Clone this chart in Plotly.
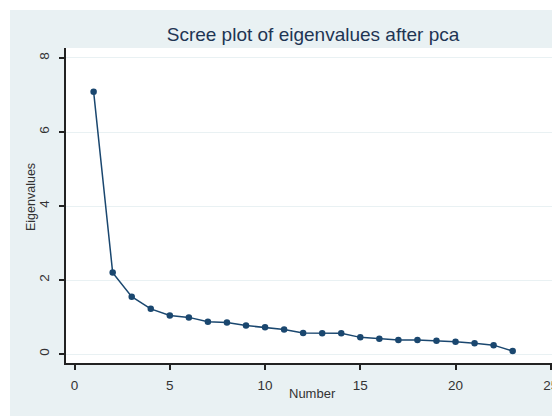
import plotly.graph_objects as go

component = list(range(1, 24))
eigenvalues = [7.09, 2.20, 1.55, 1.22, 1.04, 0.99, 0.87, 0.85, 0.77, 0.72, 0.66, 0.57,
               0.56, 0.56, 0.45, 0.41, 0.38, 0.38, 0.36, 0.33, 0.29, 0.24, 0.08]
x_ticks = [0, 5, 10, 15, 20, 25]
y_ticks = [0, 2, 4, 6, 8]

# the page places the figure 8px from the top-left corner of the window
OFF = 8
W, H = 560, 416
L = 66 - OFF
T = 48 - OFF
R = W - (558 - OFF)
B = H - (363 - OFF)
pw, ph = W - L - R, H - T - B

navy = "#1a476f"
bg = "#e9f1f3"


def px_x(p_ref):
    return (p_ref - OFF - L) / pw


def px_y(p_ref):
    return (H - B - (p_ref - OFF)) / ph


fig = go.Figure()
fig.add_trace(go.Scatter(
    x=component, y=eigenvalues, mode="lines+markers",
    line=dict(color=navy, width=1.5),
    marker=dict(color=navy, size=6.5, symbol="circle"),
    showlegend=False,
))

shapes = [
    dict(type="rect", xref="paper", yref="paper", x0=px_x(0), x1=px_x(10), y0=px_y(H + 20), y1=px_y(0),
         fillcolor="white", line=dict(width=0), layer="below"),
    dict(type="rect", xref="paper", yref="paper", x0=px_x(0), x1=px_x(W + 20), y0=px_y(10), y1=px_y(0),
         fillcolor="white", line=dict(width=0), layer="below"),
]

font = "Liberation Sans, Arial, sans-serif"
txt = "#333333"
annotations = [
    dict(text="Number", xref="paper", yref="paper", x=px_x(312), y=px_y(393),
         xanchor="center", yanchor="middle", showarrow=False,
         font=dict(size=13, color=txt, family=font)),
    dict(text="Eigenvalues", xref="paper", yref="paper", x=px_x(31), y=px_y(197),
         xanchor="center", yanchor="middle", showarrow=False, textangle=-90,
         font=dict(size=12.5, color=txt, family=font)),
]

fig.update_layout(
    width=W, height=H,
    margin=dict(l=L, r=R, t=T, b=B, autoexpand=False),
    paper_bgcolor=bg, plot_bgcolor="white",
    shapes=shapes,
    annotations=annotations,
    font=dict(family=font, color=txt, size=13.5),
    title=dict(text="Scree plot of eigenvalues after pca", x=px_x(313), xanchor="center", xref="paper",
               y=1 - (34 - OFF) / H, yanchor="middle",
               font=dict(size=19, color="#1e3553", family=font)),
    xaxis=dict(range=[-0.45, 25.38], tickvals=x_ticks, showgrid=False, zeroline=False,
               showline=True, linecolor="#222222", linewidth=1.5, automargin=False,
               ticks="outside", ticklen=5, tickcolor="#222222", tickwidth=1.5,
               ticklabelstandoff=4),
    yaxis=dict(range=[-0.243, 8.27], tickvals=y_ticks, showgrid=True, gridcolor=bg, gridwidth=1,
               zeroline=False, showline=True, linecolor="#222222", linewidth=1.5, automargin=False,
               ticks="outside", ticklen=5, tickcolor="#222222", tickwidth=1.5,
               tickangle=-90, ticklabelstandoff=5),
)

fig.write_html("out.html")
